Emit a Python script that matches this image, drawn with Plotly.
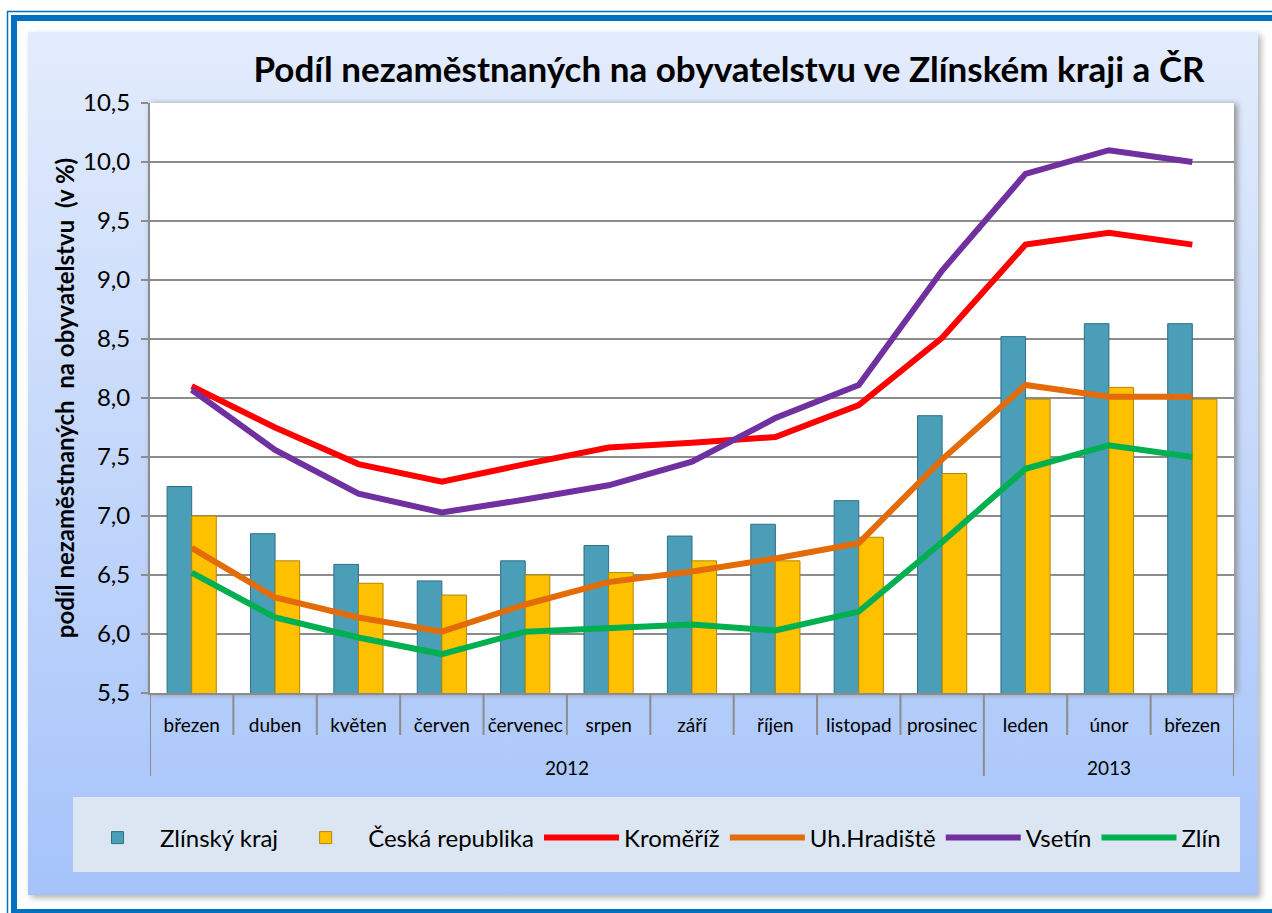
import base64
import plotly.graph_objects as go

# ---------------- data ----------------
months = ["březen", "duben", "květen", "červen", "červenec", "srpen", "září",
          "říjen", "listopad", "prosinec", "leden", "únor", "březen"]
years = ["2012"] * 10 + ["2013"] * 3

zlinsky_kraj = [7.25, 6.85, 6.59, 6.45, 6.62, 6.75, 6.83, 6.93, 7.13, 7.85, 8.52, 8.63, 8.63]
ceska_republika = [7.0, 6.62, 6.43, 6.33, 6.5, 6.52, 6.62, 6.62, 6.82, 7.36, 7.99, 8.09, 7.99]
kromeriz = [8.1, 7.75, 7.44, 7.29, 7.44, 7.58, 7.62, 7.67, 7.94, 8.51, 9.3, 9.4, 9.3]
uh_hradiste = [6.73, 6.31, 6.14, 6.02, 6.25, 6.44, 6.53, 6.64, 6.77, 7.48, 8.11, 8.01, 8.01]
vsetin = [8.07, 7.56, 7.19, 7.03, 7.14, 7.26, 7.46, 7.83, 8.11, 9.08, 9.9, 10.1, 10.0]
zlin = [6.52, 6.14, 5.97, 5.83, 6.02, 6.05, 6.08, 6.03, 6.19, 6.78, 7.4, 7.6, 7.5]

y_ticks = [5.5, 6.0, 6.5, 7.0, 7.5, 8.0, 8.5, 9.0, 9.5, 10.0, 10.5]

# ---------------- geometry ----------------
W, H = 1272, 913
L, R, T, B = 150, 38, 103, 220
PW, PH = W - L - R, H - T - B
FONT = "Lato, Carlito, Calibri, sans-serif"


def px_x(px):
    return (px - L) / PW


def px_y(py):
    return (H - B - py) / PH


idx = list(range(len(months)))

svg = f'''<svg xmlns="http://www.w3.org/2000/svg" width="{W}" height="{H}" viewBox="0 0 {W} {H}">
<defs>
<linearGradient id="g" x1="0" y1="0" x2="0" y2="1">
<stop offset="0" stop-color="#E3ECFC"/><stop offset="1" stop-color="#A5C3FA"/>
</linearGradient>
<filter id="s" x="-5%" y="-5%" width="110%" height="110%"><feGaussianBlur stdDeviation="3"/></filter>
</defs>
<rect width="{W}" height="{H}" fill="#FFFFFF"/>
<rect x="7.5" y="11.5" width="1300" height="908" fill="none" stroke="#0070C0" stroke-width="1.5"/>
<rect x="14" y="18" width="1300" height="894" fill="none" stroke="#0070C0" stroke-width="6"/>
<rect x="31" y="35" width="1230" height="863" fill="#7F7F7F" opacity="0.6" filter="url(#s)"/>
<rect x="28" y="32" width="1230" height="863" fill="url(#g)"/>
<rect x="73" y="797" width="1167" height="75" fill="#DCE6F2"/>
<rect x="151" y="104" width="1086" height="590" fill="#8A8A8A" filter="url(#s)"/>
<rect x="150" y="103" width="1084" height="590" fill="#FFFFFF"/>
</svg>'''
svg_uri = "data:image/svg+xml;base64," + base64.b64encode(svg.encode("utf-8")).decode("ascii")

fig = go.Figure()
fig.add_trace(go.Bar(x=idx, y=zlinsky_kraj, name="Zlínský kraj",
                     marker=dict(color="#4A9EB8", line=dict(color="#2F6F86", width=1))))
fig.add_trace(go.Bar(x=idx, y=ceska_republika, name="Česká republika",
                     marker=dict(color="#FFC000", line=dict(color="#B38600", width=1))))
for name, vals, col in [("Kroměříž", kromeriz, "#FF0000"),
                        ("Uh.Hradiště", uh_hradiste, "#E36C09"),
                        ("Vsetín", vsetin, "#7030A0"),
                        ("Zlín", zlin, "#00B050")]:
    fig.add_trace(go.Scatter(x=idx, y=vals, name=name, mode="lines",
                             line=dict(color=col, width=6)))

shapes = []
n = len(months)
for k in range(n + 1):
    long = k == 0 or k == n or years[k] != years[k - 1]
    shapes.append(dict(type="line", xref="x", yref="paper", x0=k - 0.5, x1=k - 0.5,
                       y0=0, y1=-(83 if long else 42) / PH,
                       line=dict(color="#8C8C8C", width=2)))

annotations = []
for yr in dict.fromkeys(years):
    pos = [i for i, v in enumerate(years) if v == yr]
    annotations.append(dict(x=sum(pos) / len(pos), xref="x", y=px_y(767), yref="paper",
                            text=yr, showarrow=False, yanchor="middle",
                            font=dict(size=19, color="#000000", family=FONT)))

fig.update_layout(
    width=W, height=H,
    margin=dict(l=L, r=R, t=T, b=B),
    paper_bgcolor="#FFFFFF",
    plot_bgcolor="rgba(0,0,0,0)",
    separators=", ",
    font=dict(family=FONT, color="#000000"),
    barmode="group", bargap=0.41, bargroupgap=0,
    images=[dict(source=svg_uri, xref="paper", yref="paper",
                 x=px_x(0), y=px_y(0), sizex=W / PW, sizey=H / PH,
                 xanchor="left", yanchor="top", sizing="stretch", layer="below")],
    title=dict(text="<b>Podíl nezaměstnaných na obyvatelstvu ve Zlínském kraji a ČR</b>",
               x=729 / W, xanchor="center", y=1 - 70 / H, yanchor="middle",
               font=dict(size=35, color="#000000", family=FONT)),
    xaxis=dict(range=[-0.5, n - 0.5], tickmode="array", tickvals=idx, ticktext=months,
               showgrid=False, ticks="", showline=True, linecolor="#8C8C8C", linewidth=2,
               tickfont=dict(size=19, color="#000000"), ticklabelstandoff=14,
               zeroline=False),
    yaxis=dict(range=[5.5, 10.5], tickmode="array", tickvals=y_ticks, tickformat=".1f",
               showgrid=True, gridcolor="#8C8C8C", gridwidth=1.5,
               showline=True, linecolor="#8C8C8C", linewidth=2,
               ticks="outside", ticklen=7, tickcolor="#8C8C8C", tickwidth=2,
               tickfont=dict(size=24, color="#000000"), ticklabelstandoff=6,
               zeroline=False,
               title=dict(text="<b>podíl nezaměstnaných  na obyvatelstvu  (v %)</b>",
                          font=dict(size=24, color="#000000"), standoff=2)),
    legend=dict(orientation="h", x=px_x(75), xanchor="left", y=px_y(838), yanchor="middle",
                bgcolor="rgba(0,0,0,0)", font=dict(size=24, color="#000000"),
                itemwidth=75, traceorder="normal"),
    shapes=shapes,
    annotations=annotations,
)

fig.write_html("out.html", post_script="document.body.style.margin='0';",
               config={"displayModeBar": False})
